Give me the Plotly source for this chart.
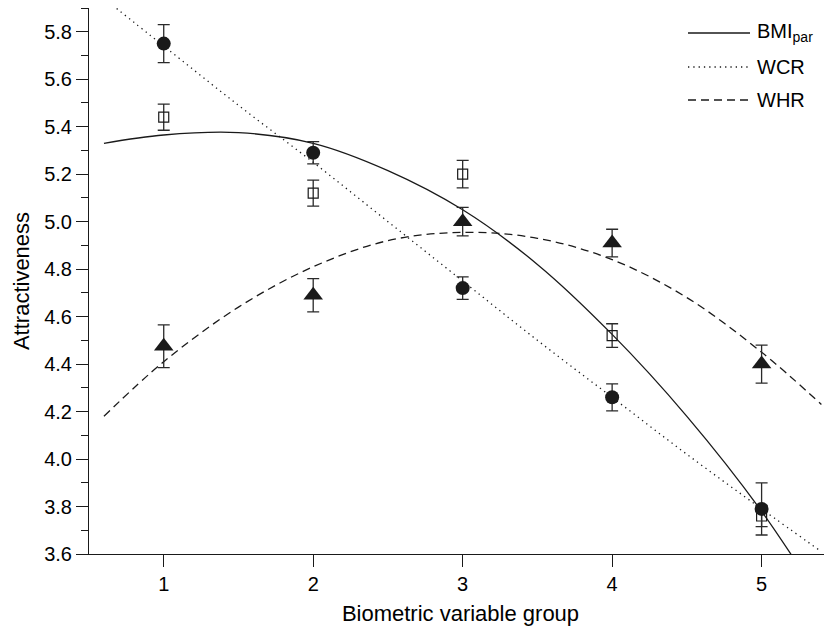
import plotly.graph_objects as go

# ---- data ----
groups = [1, 2, 3, 4, 5]

# open squares (BMI_par groups)
bmi_mean = [5.44, 5.12, 5.20, 4.52, 3.76]
bmi_err = [0.055, 0.055, 0.058, 0.05, 0.045]
# filled circles (WCR groups)
wcr_mean = [5.75, 5.29, 4.72, 4.26, 3.79]
wcr_err = [0.08, 0.047, 0.047, 0.057, 0.11]
# filled triangles (WHR groups)
whr_mean = [4.475, 4.69, 5.00, 4.91, 4.40]
whr_err = [0.09, 0.07, 0.06, 0.058, 0.08]

# fitted curves
fit_x = [0.6, 1.0, 1.5, 2.0, 2.5, 3.0, 3.5, 4.0, 4.5, 5.0, 5.4]
bmi_fit = [5.33, 5.365, 5.375, 5.33, 5.215, 5.05, 4.82, 4.525, 4.18, 3.78, 3.40]
wcr_fit = [5.94, 5.74, 5.49, 5.25, 5.00, 4.75, 4.50, 4.26, 4.02, 3.79, 3.61]
whr_fit = [4.18, 4.41, 4.64, 4.81, 4.92, 4.955, 4.93, 4.84, 4.68, 4.45, 4.23]

y_range = [3.6, 5.9]
legend_names = ["BMI<sub>par</sub>", "WCR", "WHR"]
legend_dashes = ["solid", "1.3px,4px", "8px,5px"]

FONT = "Liberation Sans, Arial, Helvetica, sans-serif"
INK = "#1a1a1a"
OFF = 8  # page body margin
W, H = 832 - OFF, 626 - OFF
L, R, T, B = 81, 0, 0, 72

fig = go.Figure()

for ys, dash in zip([bmi_fit, wcr_fit, whr_fit], legend_dashes):
    fig.add_trace(go.Scatter(
        x=fit_x, y=ys, mode="lines",
        line=dict(color=INK, width=1.3, dash=dash, shape="spline", smoothing=1.0),
        showlegend=False, hoverinfo="skip"))

err_style = dict(type="data", color="#2a2a2a", thickness=1.3, width=6)

fig.add_trace(go.Scatter(
    x=groups, y=bmi_mean, mode="markers",
    marker=dict(symbol="square-open", size=10, color=INK, line=dict(width=1.2, color=INK)),
    error_y=dict(array=bmi_err, **err_style), showlegend=False))
fig.add_trace(go.Scatter(
    x=groups, y=wcr_mean, mode="markers",
    marker=dict(symbol="circle", size=14, color=INK),
    error_y=dict(array=wcr_err, **err_style), showlegend=False))
fig.add_trace(go.Scatter(
    x=groups, y=whr_mean, mode="markers",
    marker=dict(symbol="triangle-up", size=17, color=INK),
    error_y=dict(array=whr_err, **err_style), showlegend=False))
# invisible companion trace so the label-carrying overlay axis is drawn
fig.add_trace(go.Scatter(
    x=groups, y=wcr_mean, mode="markers", yaxis="y2",
    marker=dict(size=1, opacity=0), showlegend=False, hoverinfo="skip"))

# ---- manual legend (layout elements), positions in screen px ----
pw, ph = W - L - R, H - T - B
def px_x(px):
    return (px - OFF - L) / pw
def px_y(py):
    return (H - B - (py - OFF)) / ph

row_y = [33, 67, 100]
for name, dash, yy in zip(legend_names, legend_dashes, row_y):
    fig.add_shape(type="line", xref="paper", yref="paper",
                  x0=px_x(688), x1=px_x(750), y0=px_y(yy), y1=px_y(yy),
                  line=dict(color=INK, width=1.3, dash=dash))
    fig.add_annotation(xref="paper", yref="paper", x=px_x(755), y=px_y(yy),
                       text=name, showarrow=False, xanchor="left", yanchor="middle",
                       font=dict(family=FONT, size=20, color="black"))

axis_common = dict(
    showline=True, linecolor=INK, linewidth=1.3,
    ticks="outside", ticklen=12, tickwidth=1.3, tickcolor=INK,
    showgrid=False, zeroline=False, automargin=False,
    tickfont=dict(family=FONT, size=20, color="black"),
)

fig.update_layout(
    width=W, height=H,
    margin=dict(l=L, r=R, t=T, b=B),
    paper_bgcolor="white", plot_bgcolor="white",
    font=dict(family=FONT, color="black"),
    xaxis=dict(range=[0.5, 5.471], tickvals=groups,
               title=dict(text="Biometric variable group", standoff=13,
                          font=dict(family=FONT, size=22, color="black")),
               **axis_common),
    yaxis=dict(range=y_range, tick0=3.6, dtick=0.2, showticklabels=False,
               minor=dict(dtick=0.1, ticks="outside", ticklen=7, tickwidth=1.3, tickcolor=INK),
               title=dict(text="Attractiveness", standoff=40,
                          font=dict(family=FONT, size=22, color="black")),
               **axis_common),
    yaxis2=dict(range=y_range, tick0=3.6, dtick=0.2, tickformat=".1f",
                overlaying="y", side="left", anchor="x",
                ticks="", ticklabelstandoff=16,
                showline=False, showgrid=False, zeroline=False,
                automargin=False,
                tickfont=dict(family=FONT, size=20, color="black")),
)

fig.write_html("out.html")
